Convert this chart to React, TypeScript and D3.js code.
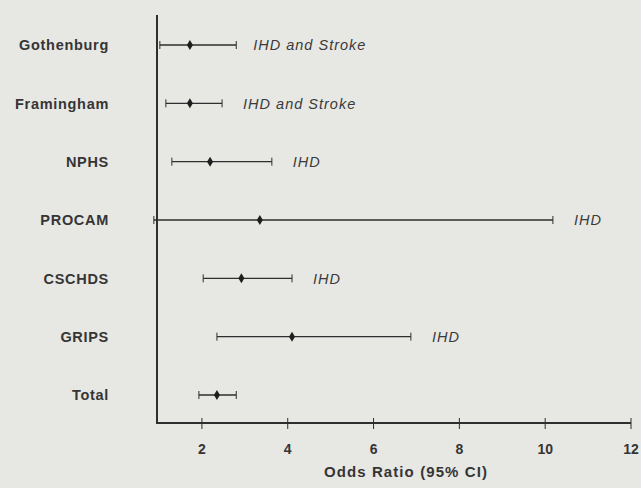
import React, { useEffect, useRef } from "react";
import * as d3 from "d3";

// studies, top to bottom
const studies = ["Gothenburg", "Framingham", "NPHS", "PROCAM", "CSCHDS", "GRIPS", "Total"];
const oddsRatio = [1.72, 1.72, 2.19, 3.35, 2.92, 4.1, 2.35];
const ciLow = [1.02, 1.16, 1.3, 0.88, 2.03, 2.35, 1.93];
const ciHigh = [2.8, 2.47, 3.63, 10.18, 4.1, 6.87, 2.8];
const endpoint = ["IHD and Stroke", "IHD and Stroke", "IHD", "IHD", "IHD", "IHD", ""];
const xTicks = [2, 4, 6, 8, 10, 12];

const W = 641;
const H = 488;
const ink = "#2e2e2e";
const font = "Liberation Sans, Arial, sans-serif";

function ForestPlot() {
  const ref = useRef<SVGSVGElement>(null);

  useEffect(() => {
    const svg = d3.select(ref.current);
    svg.selectAll("*").remove();

    const x = d3.scaleLinear().domain([1, 12]).range([159, 631]);
    const y = d3.scalePoint<string>().domain(studies).range([45, 395]);
    const axisY = 423;
    const axisX = 157;

    const rows = studies.map((s, i) => ({
      name: s, or: oddsRatio[i], lo: ciLow[i], hi: ciHigh[i], note: endpoint[i],
    }));

    svg.append("rect").attr("width", W).attr("height", H).attr("fill", "#e7e7e4");

    // axes
    svg.append("line")
      .attr("x1", axisX).attr("x2", axisX).attr("y1", 15).attr("y2", axisY + 1)
      .attr("stroke", ink).attr("stroke-width", 2);
    svg.append("line")
      .attr("x1", axisX).attr("x2", x(12)).attr("y1", axisY).attr("y2", axisY)
      .attr("stroke", ink).attr("stroke-width", 2);

    const tick = svg.append("g").selectAll("g").data(xTicks).join("g")
      .attr("transform", d => `translate(${x(d)},${axisY})`);
    tick.append("line").attr("y1", -5).attr("y2", 6).attr("stroke", ink).attr("stroke-width", 1);
    tick.append("text")
      .attr("y", 31).attr("text-anchor", "middle")
      .attr("font-family", font).attr("font-size", 14).attr("font-weight", "bold")
      .attr("fill", "#353535")
      .text(d => d);

    svg.append("text")
      .attr("x", 406).attr("y", 477).attr("text-anchor", "middle")
      .attr("font-family", font).attr("font-size", 15).attr("font-weight", "bold")
      .attr("fill", "#353535").attr("letter-spacing", 1.1)
      .text("Odds Ratio (95% CI)");

    const row = svg.append("g").selectAll("g").data(rows).join("g")
      .attr("transform", d => `translate(0,${y(d.name)})`);

    row.append("text")
      .attr("x", 109).attr("dy", "0.36em").attr("text-anchor", "end")
      .attr("font-family", font).attr("font-size", 14.5).attr("font-weight", "bold")
      .attr("fill", "#353535").attr("letter-spacing", 0.7)
      .text(d => d.name);

    row.append("line")
      .attr("x1", d => x(d.lo)).attr("x2", d => x(d.hi))
      .attr("stroke", ink).attr("stroke-width", 1.3);
    row.append("line")
      .attr("x1", d => x(d.lo)).attr("x2", d => x(d.lo)).attr("y1", -4).attr("y2", 4)
      .attr("stroke", ink).attr("stroke-width", 1);
    row.append("line")
      .attr("x1", d => x(d.hi)).attr("x2", d => x(d.hi)).attr("y1", -4).attr("y2", 4)
      .attr("stroke", ink).attr("stroke-width", 1);

    row.append("path")
      .attr("d", d => {
        const cx = x(d.or);
        return `M${cx},-5L${cx + 3},0L${cx},5L${cx - 3},0Z`;
      })
      .attr("fill", "#1e1e1e");

    // endpoint note sits a little to the right of the upper CI
    row.append("text")
      .attr("x", (d, i) => x(d.hi) + (i === 0 ? 17 : 21))
      .attr("dy", "0.36em")
      .attr("font-family", font).attr("font-size", 14.5).attr("font-style", "italic")
      .attr("fill", "#3a3a3a").attr("letter-spacing", 1)
      .text(d => d.note);
  }, []);

  return <svg ref={ref} width={W} height={H} style={{ display: "block" }} />;
}

export default function App() {
  return (
    <div style={{ position: "fixed", left: 0, top: 0 }}>
      <ForestPlot />
    </div>
  );
}
